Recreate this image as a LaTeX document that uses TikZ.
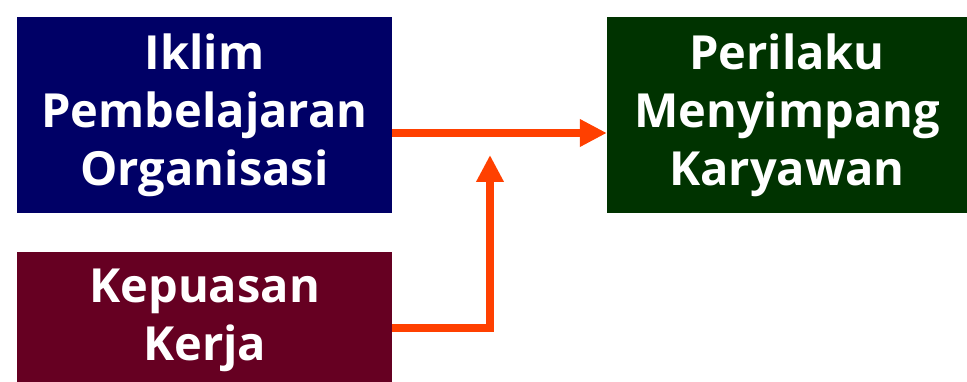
\documentclass[tikz,border=0pt]{standalone}
\usepackage{fontspec}
\setmainfont{Open Sans}
\usetikzlibrary{calc,arrows.meta,positioning}

\definecolor{iklimblue}{RGB}{0,0,102}
\definecolor{perilakugreen}{RGB}{0,51,0}
\definecolor{kepuasanred}{RGB}{102,0,34}
\definecolor{arroworange}{RGB}{255,64,0}

\begin{document}
\begin{tikzpicture}[x=1pt,y=1pt,
  box/.style={inner sep=0pt, minimum width=375pt, minimum height=196pt},
  boxtext/.style={text=white, align=center,
    font=\fontsize{47}{58}\selectfont\bfseries},
  flow/.style={arroworange, line width=8pt, line join=miter,
    -{Triangle[length=27pt,width=26pt]}}]

\useasboundingbox (0,0) rectangle (967,-382);

% Boxes
\node[box, fill=iklimblue, boxtext] (iklim) at (204.5,-115)
  {Iklim\\Pembelajaran\\Organisasi};
\node[box, fill=perilakugreen, boxtext, minimum width=360pt] (perilaku) at (787,-115)
  {Perilaku\\Menyimpang\\Karyawan};
\node[box, fill=kepuasanred, anchor=north west] (kepuasan) at (17,-252) {};
\node[boxtext, below=13pt of kepuasan.north] (kepuasantext) {Kepuasan\\Kerja};

% Connector points
\coordinate (a1) at ($(iklim.east)+(0,-18)$);
\coordinate (b1) at ($(kepuasan.north east)+(0,-76)$);
\coordinate (b2) at (490,-155);

% Arrows
\draw[flow] (a1) -- (a1 -| perilaku.west);
\draw[flow] (b1) -- (b1 -| b2) -- (b2);

\end{tikzpicture}
\end{document}
